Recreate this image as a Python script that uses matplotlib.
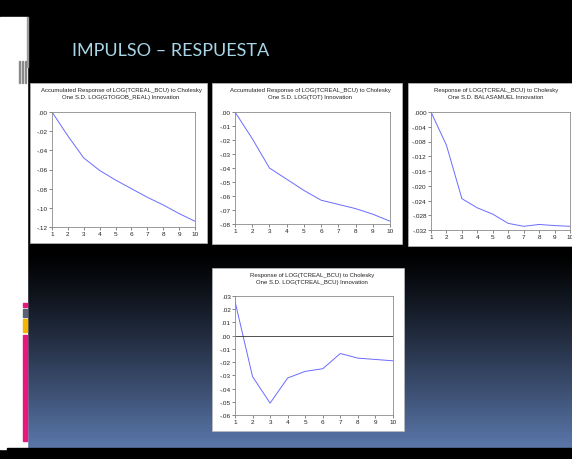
import matplotlib
matplotlib.use("Agg")
import matplotlib.pyplot as plt
from matplotlib.patches import Rectangle
import numpy as np

W, H = 572, 460

# impulse-response values (periods 1..10)
periods = [1, 2, 3, 4, 5, 6, 7, 8, 9, 10]
acc_gtogob = [0.0, -0.025, -0.048, -0.061, -0.071, -0.080, -0.089, -0.097, -0.106, -0.114]
acc_tot = [0.0, -0.019, -0.040, -0.048, -0.056, -0.063, -0.066, -0.069, -0.073, -0.078]
resp_bala = [0.0, -0.0090, -0.0235, -0.0260, -0.0277, -0.0302, -0.0310, -0.0305, -0.0308, -0.0310]
resp_tcreal = [0.026, -0.031, -0.051, -0.032, -0.027, -0.025, -0.0135, -0.017, -0.018, -0.019]

titles = [
    "Accumulated Response of LOG(TCREAL_BCU) to Cholesky\nOne S.D. LOG(GTOGOB_REAL) Innovation",
    "Accumulated Response of LOG(TCREAL_BCU) to Cholesky\nOne S.D. LOG(TOT) Innovation",
    "Response of LOG(TCREAL_BCU) to Cholesky\nOne S.D. BALASAMUEL Innovation",
    "Response of LOG(TCREAL_BCU) to Cholesky\nOne S.D. LOG(TCREAL_BCU) Innovation",
]
yticks1 = [0.0, -0.02, -0.04, -0.06, -0.08, -0.10, -0.12]
yticks2 = [0.0, -0.01, -0.02, -0.03, -0.04, -0.05, -0.06, -0.07, -0.08]
yticks3 = [0.0, -0.004, -0.008, -0.012, -0.016, -0.020, -0.024, -0.028, -0.032]
yticks4 = [0.03, 0.02, 0.01, 0.0, -0.01, -0.02, -0.03, -0.04, -0.05, -0.06]

fig = plt.figure(figsize=(W / 100, H / 100), dpi=100)
fig.patch.set_facecolor("black")

bg = fig.add_axes([0, 0, 1, 1])
bg.set_xlim(0, W)
bg.set_ylim(H, 0)
bg.axis("off")

# slide background: black fading into blue at the bottom
rows = np.linspace(18, 450, 300)
t = np.clip((rows - 255) / (447 - 255), 0, 1)[:, None] ** 1.15
top_c = np.array([0.0, 0.0, 0.0])
bot_c = np.array([0.35, 0.46, 0.66])
grad = (top_c * (1 - t) + bot_c * t)[:, None, :]
bg.imshow(grad, extent=(27, W, 450, 18), aspect="auto", zorder=0)

# left white strip, bottom black band, decorations
bg.add_patch(Rectangle((0, 18), 27, 432, color="white", zorder=1))
bg.add_patch(Rectangle((27, 18), 1.2, 50, color="#9a9a9a", zorder=2))
bg.add_patch(Rectangle((7, 449), W - 7, 11, color="black", zorder=2))
for xx in [18.5, 21.5, 24.5]:
    bg.add_patch(Rectangle((xx, 62), 1.5, 22, color="#8a8a8a", zorder=2))
bg.add_patch(Rectangle((23, 304), 4, 4, color="#e8177d", zorder=2))
bg.add_patch(Rectangle((23, 310), 4, 8, color="#596375", zorder=2))
bg.add_patch(Rectangle((23, 320), 4, 13, color="#f7b500", zorder=2))
bg.add_patch(Rectangle((23, 336), 4, 106, color="#e8177d", zorder=2))

bg.text(72, 51, "IMPULSO – RESPUESTA", color="#a9d6e6", fontsize=13,
        family="Lato", va="center", ha="left", zorder=3)

# white boxes behind each chart
boxes = [(30, 84, 207, 244), (212, 84, 402, 245), (408, 84, 575, 247), (212, 269, 404, 432)]
for l, tp, r, b in boxes:
    bg.add_patch(Rectangle((l, tp), r - l, b - tp, facecolor="white",
                           edgecolor="#bbbbbb", linewidth=0.5, zorder=2))

title_pos = [(121, 94), (310, 94), (496, 94), (312, 279)]
for (cx, cy), tt in zip(title_pos, titles):
    bg.text(cx, cy, tt, fontsize=4.3, family="Liberation Sans", color="#222222",
            ha="center", va="center", linespacing=1.3, zorder=3)


def fmt(v, nd):
    s = f"{v:.{nd}f}"
    if s.startswith("-") and float(s) == 0:
        s = s[1:]
    return s.replace("0.", ".", 1)


def px_axes(l, tp, r, b):
    return fig.add_axes([l / W, 1 - b / H, (r - l) / W, (b - tp) / H])


def panel(rect, values, yticks, nd, zero_line=False):
    ax = px_axes(*rect)
    ax.plot(periods, values, color="#6b6bff", linewidth=0.7)
    if zero_line:
        ax.axhline(0, color="#333333", linewidth=0.6)
    ax.set_xlim(1, 10)
    ax.set_ylim(min(yticks), max(yticks))
    ax.set_xticks(periods)
    ax.set_xticklabels([str(p) for p in periods])
    ax.set_yticks(yticks)
    ax.set_yticklabels([fmt(v, nd) for v in yticks])
    ax.tick_params(direction="out", length=2, width=0.5, labelsize=4.6,
                   pad=1, colors="#555555", labelcolor="#222222")
    for tl in ax.get_xticklabels() + ax.get_yticklabels():
        tl.set_family("Liberation Sans")
    for sp in ax.spines.values():
        sp.set_color("#8a8a8a")
        sp.set_linewidth(0.6)
    ax.set_facecolor("white")
    return ax


panel((52, 113, 195, 228), acc_gtogob, yticks1, 2)
panel((235, 113, 390, 225), acc_tot, yticks2, 2)
panel((431, 113, 570, 231), resp_bala, yticks3, 3)
panel((235, 297, 393, 416), resp_tcreal, yticks4, 2, zero_line=True)

fig.savefig("out.png", dpi=100, facecolor="black")
